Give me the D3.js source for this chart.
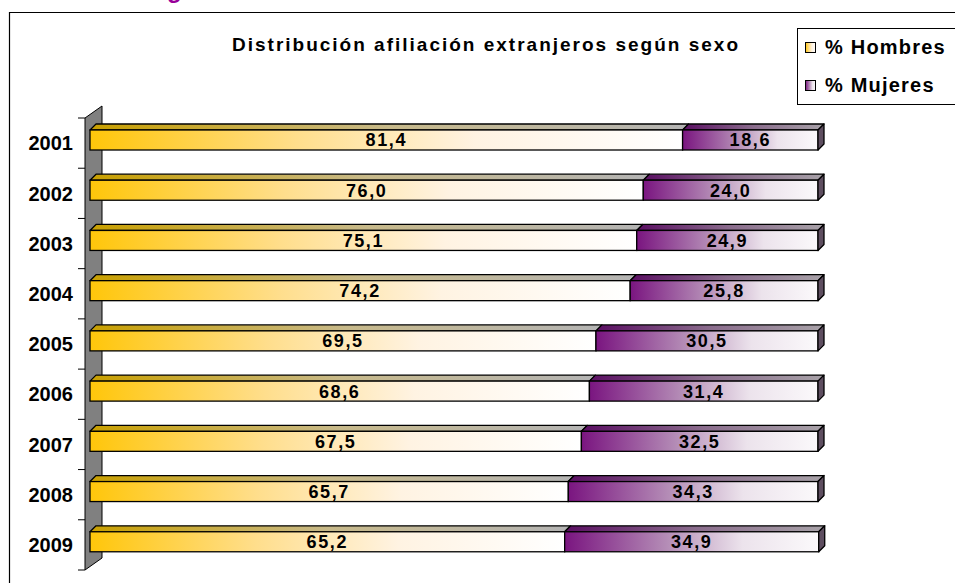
<!DOCTYPE html>
<html>
<head>
<meta charset="utf-8">
<script src="https://cdn.jsdelivr.net/npm/d3@7"></script>
<style>
  body { margin: 0; background: #fff; }
  svg { display: block; }
  text { font-family: "Liberation Sans", Arial, sans-serif; font-weight: bold; }
</style>
</head>
<body>
<svg id="chart" width="955" height="583"></svg>
<script>
// ===== data =====
const years   = ['2001', '2002', '2003', '2004', '2005', '2006', '2007', '2008', '2009'];
const hombres = [81.4, 76.0, 75.1, 74.2, 69.5, 68.6, 67.5, 65.7, 65.2];
const mujeres = [18.6, 24.0, 24.9, 25.8, 30.5, 31.4, 32.5, 34.3, 34.9];
const seriesNames = ['% Hombres', '% Mujeres'];
const title = 'Distribución afiliación extranjeros según sexo';

const svg = d3.select('#chart');
const defs = svg.append('defs');

// gradients
function grad(id, stops) {
  const g = defs.append('linearGradient').attr('id', id)
    .attr('x1', 0).attr('x2', 1).attr('y1', 0).attr('y2', 0);
  stops.forEach(([o, c]) => g.append('stop').attr('offset', o).attr('stop-color', c));
}
grad('gH',  [[0, '#FFC60A'], [0.35, '#FFDE8C'], [0.65, '#FFF3E2'], [1, '#FFFFFF']]);
grad('gM',  [[0, '#7A1580'], [0.4, '#B48CB6'], [0.7, '#ECE3EC'], [1, '#FBF9FB']]);
grad('gHt', [[0, '#C9A000'], [0.5, '#C7B98A'], [1, '#B4B4B4']]);
grad('gMt', [[0, '#5A0E62'], [0.5, '#8A6C8C'], [1, '#A8A2A8']]);

// scales
const x = d3.scaleLinear().domain([0, 100]).range([90, 818]);
const y = d3.scaleBand().domain(years).range([118, 570]);
const fmt = v => d3.format('.1f')(v).replace('.', ',');

const dx = 6, dy = -6, barOff = 12, barH = 20;

// frame
svg.append('path').attr('d', 'M9.5,583 V12.5 H955')
  .attr('fill', 'none').attr('stroke', '#000').attr('stroke-width', 1.2);

// cut off heading glyph above the frame
svg.append('text').attr('x', 167).attr('y', -2)
  .attr('font-size', 24).attr('fill', '#990099').text('g');

// title
svg.append('text').attr('x', 486).attr('y', 51)
  .attr('text-anchor', 'middle')
  .attr('font-size', 19).attr('letter-spacing', 2)
  .attr('fill', '#000').text(title);

// wall
const wy0 = y.range()[0], wy1 = y.range()[1];
svg.append('path')
  .attr('d', `M85,${wy0} L102,${wy0 - 12} L102,${wy1 - 12} L85,${wy1} Z`)
  .attr('fill', '#808080').attr('stroke', '#000').attr('stroke-width', 1);

// ticks at band boundaries
const bounds = years.map(d => y(d)).concat([wy1]);
svg.append('g').selectAll('line').data(bounds).join('line')
  .attr('x1', 78).attr('x2', 85).attr('y1', d => d).attr('y2', d => d)
  .attr('stroke', '#000').attr('stroke-width', 1);

// year labels
const axis = svg.append('g').attr('transform', 'translate(85,0)')
  .call(d3.axisLeft(y).tickSize(0).tickPadding(12));
axis.select('.domain').remove();
axis.selectAll('text').attr('font-size', 20).attr('fill', '#000')
  .attr('font-family', '"Liberation Sans", Arial, sans-serif')
  .attr('font-weight', 'bold')
  .attr('dy', '0.36em');

// bars
const rows = years.map((yr, i) => ({ yr, segs: [
  { a: 0, b: hombres[i], v: hombres[i], k: 'H' },
  { a: hombres[i], b: hombres[i] + mujeres[i], v: mujeres[i], k: 'M' }
]}));

const bars = svg.append('g').selectAll('g').data(rows).join('g');
bars.each(function (r) {
  const g = d3.select(this);
  const y0 = y(r.yr) + barOff;
  r.segs.forEach(s => {
    const xa = x(s.a), xb = x(s.b);
    g.append('path')
      .attr('d', `M${xa},${y0} L${xa + dx},${y0 + dy} L${xb + dx},${y0 + dy} L${xb},${y0} Z`)
      .attr('fill', `url(#g${s.k}t)`).attr('stroke', '#000').attr('stroke-width', 1.3)
      .attr('stroke-linejoin', 'round');
    g.append('rect').attr('x', xa).attr('y', y0).attr('width', xb - xa).attr('height', barH)
      .attr('fill', `url(#g${s.k})`).attr('stroke', '#000').attr('stroke-width', 1.3);
  });
  const xe = x(r.segs[1].b);
  g.append('path')
    .attr('d', `M${xe},${y0} L${xe + dx},${y0 + dy} L${xe + dx},${y0 + dy + barH} L${xe},${y0 + barH} Z`)
    .attr('fill', '#5E4E60').attr('stroke', '#000').attr('stroke-width', 1.3)
    .attr('stroke-linejoin', 'round');
  r.segs.forEach(s => {
    g.append('text')
      .attr('x', (x(s.a) + x(s.b)) / 2).attr('y', y0 + barH / 2).attr('dy', '0.36em')
      .attr('text-anchor', 'middle').attr('font-size', 18).attr('letter-spacing', 1.6)
      .attr('fill', '#000').text(fmt(s.v));
  });
});

// legend
const lg = svg.append('g');
lg.append('rect').attr('x', 797.5).attr('y', 28.5).attr('width', 170).attr('height', 76)
  .attr('fill', '#fff').attr('stroke', '#000').attr('stroke-width', 1);
const legY = [54, 92];
seriesNames.forEach((name, i) => {
  lg.append('rect').attr('x', 805.5).attr('y', legY[i] - 11.5).attr('width', 10).attr('height', 10)
    .attr('fill', i === 0 ? 'url(#gH)' : 'url(#gM)').attr('stroke', '#000').attr('stroke-width', 1);
  lg.append('text').attr('x', 825).attr('y', legY[i])
    .attr('font-size', 20).attr('letter-spacing', 1.2).attr('fill', '#000').text(name);
});
</script>
</body>
</html>
